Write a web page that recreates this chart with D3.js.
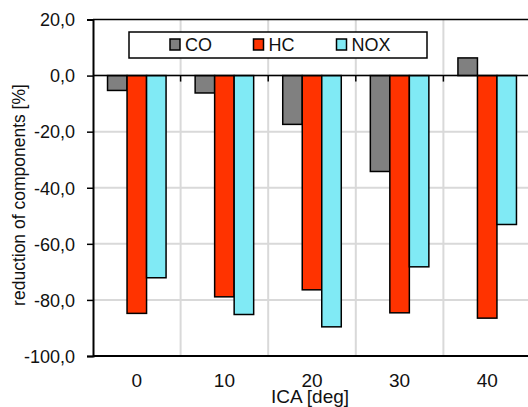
<!DOCTYPE html>
<html>
<head>
<meta charset="utf-8">
<script src="https://cdn.jsdelivr.net/npm/d3@7"></script>
<style>
  body { margin: 0; background: #fff; }
  svg { display: block; font-family: "Liberation Sans", Arial, sans-serif; }
</style>
</head>
<body>
<div id="chart"></div>
<script>
"use strict";

// ICA angle categories and the three exhaust components.
const categories = ["0", "10", "20", "30", "40"];
const series = ["CO", "HC", "NOX"];
const coValues = [-5.3, -6.2, -17.4, -34.2, 6.3];
const hcValues = [-84.8, -78.9, -76.4, -84.6, -86.5];
const noxValues = [-72.1, -85.2, -89.6, -68.2, -53.1];
const yTicks = [20, 0, -20, -40, -60, -80, -100];

const colours = { CO: "#808080", HC: "#ff3300", NOX: "#80eaf5" };
const valuesBySeries = { CO: coValues, HC: hcValues, NOX: noxValues };

const width = 528, height = 407;
const plot = { left: 93, right: 531, top: 19.5, bottom: 356 };

const svg = d3.select("#chart").append("svg")
  .attr("width", width)
  .attr("height", height);

const y = d3.scaleLinear().domain([-100, 20]).range([plot.bottom, plot.top]);
const x0 = d3.scaleBand().domain(categories).range([plot.left, plot.right]).padding(0);
const x1 = d3.scaleBand().domain(series).range([0, x0.bandwidth()])
  .paddingInner(0).paddingOuter(0.745);

const fmt = d3.formatLocale({ decimal: ",", thousands: ".", grouping: [3], currency: ["", ""], minus: "-" })
  .format(".1f");

// Horizontal gridlines (skip the top border and the bottom axis).
svg.append("g").selectAll("line")
  .data(yTicks.filter(t => t !== 20 && t !== -100))
  .join("line")
  .attr("x1", plot.left).attr("x2", plot.right)
  .attr("y1", d => y(d)).attr("y2", d => y(d))
  .attr("stroke", "#d9d9d9").attr("stroke-width", 2);

// Vertical gridlines at category boundaries.
const boundaries = categories.slice(1).map(c => x0(c));
svg.append("g").selectAll("line")
  .data(boundaries)
  .join("line")
  .attr("x1", d => d).attr("x2", d => d)
  .attr("y1", plot.top).attr("y2", plot.bottom)
  .attr("stroke", "#d9d9d9").attr("stroke-width", 2);

// Top border.
svg.append("line")
  .attr("x1", plot.left).attr("x2", plot.right)
  .attr("y1", plot.top).attr("y2", plot.top)
  .attr("stroke", "#000").attr("stroke-width", 1.5);

// Bars.
const groups = svg.append("g").selectAll("g")
  .data(categories)
  .join("g")
  .attr("transform", c => `translate(${x0(c)},0)`);

groups.selectAll("rect")
  .data((c, i) => series.map(s => ({ key: s, value: valuesBySeries[s][i] })))
  .join("rect")
  .attr("x", d => x1(d.key))
  .attr("width", x1.bandwidth())
  .attr("y", d => y(Math.max(0, d.value)))
  .attr("height", d => Math.abs(y(d.value) - y(0)))
  .attr("fill", d => colours[d.key])
  .attr("stroke", "#000")
  .attr("stroke-width", 1.5);

// Zero line with category ticks below it.
svg.append("line")
  .attr("x1", plot.left).attr("x2", plot.right)
  .attr("y1", y(0)).attr("y2", y(0))
  .attr("stroke", "#000").attr("stroke-width", 1.5);
svg.append("g").selectAll("line")
  .data(boundaries)
  .join("line")
  .attr("x1", d => d).attr("x2", d => d)
  .attr("y1", y(0)).attr("y2", y(0) + 6)
  .attr("stroke", "#000").attr("stroke-width", 1.5);

// Bottom axis line.
svg.append("line")
  .attr("x1", plot.left).attr("x2", plot.right)
  .attr("y1", plot.bottom).attr("y2", plot.bottom)
  .attr("stroke", "#000").attr("stroke-width", 2);

// Y axis.
const yAxis = svg.append("g")
  .attr("transform", `translate(${plot.left},0)`)
  .call(d3.axisLeft(y).tickValues(yTicks).tickFormat(fmt).tickSize(6).tickPadding(12));
yAxis.select(".domain").attr("stroke", "#000").attr("stroke-width", 2);
yAxis.selectAll(".tick line").attr("stroke", "#000").attr("stroke-width", 1.5);
yAxis.selectAll(".tick text")
  .attr("fill", "#111")
  .style("font-size", "18px")
  .attr("dy", "0.35em");
yAxis.attr("font-family", null).attr("font-size", null);

// X tick labels (placed below the bottom axis).
svg.append("g").selectAll("text")
  .data(categories)
  .join("text")
  .attr("x", c => x0(c) + x0.bandwidth() / 2)
  .attr("y", 387)
  .attr("text-anchor", "middle")
  .attr("fill", "#111")
  .style("font-size", "19px")
  .text(c => c);

// Axis titles.
svg.append("text")
  .attr("x", 310)
  .attr("y", 403)
  .attr("text-anchor", "middle")
  .attr("fill", "#111")
  .style("font-size", "19px")
  .text("ICA [deg]");

svg.append("text")
  .attr("transform", "translate(24.5,195) rotate(-90)")
  .attr("text-anchor", "middle")
  .attr("fill", "#111")
  .style("font-size", "17.5px")
  .text("reduction of components [%]");

// Legend.
const legend = svg.append("g");
legend.append("rect")
  .attr("x", 129).attr("y", 32)
  .attr("width", 298).attr("height", 26)
  .attr("fill", "#fff")
  .attr("stroke", "#000").attr("stroke-width", 1.5);

const legendX = { CO: 170, HC: 253.5, NOX: 336.5 };
const items = legend.selectAll("g.item")
  .data(series)
  .join("g")
  .attr("class", "item")
  .attr("transform", s => `translate(${legendX[s]},39)`);
items.append("rect")
  .attr("width", 10).attr("height", 11)
  .attr("fill", s => colours[s])
  .attr("stroke", "#000").attr("stroke-width", 1.5);
items.append("text")
  .attr("x", 15)
  .attr("y", 12)
  .attr("fill", "#111")
  .style("font-size", "18px")
  .text(s => s);
</script>
</body>
</html>
